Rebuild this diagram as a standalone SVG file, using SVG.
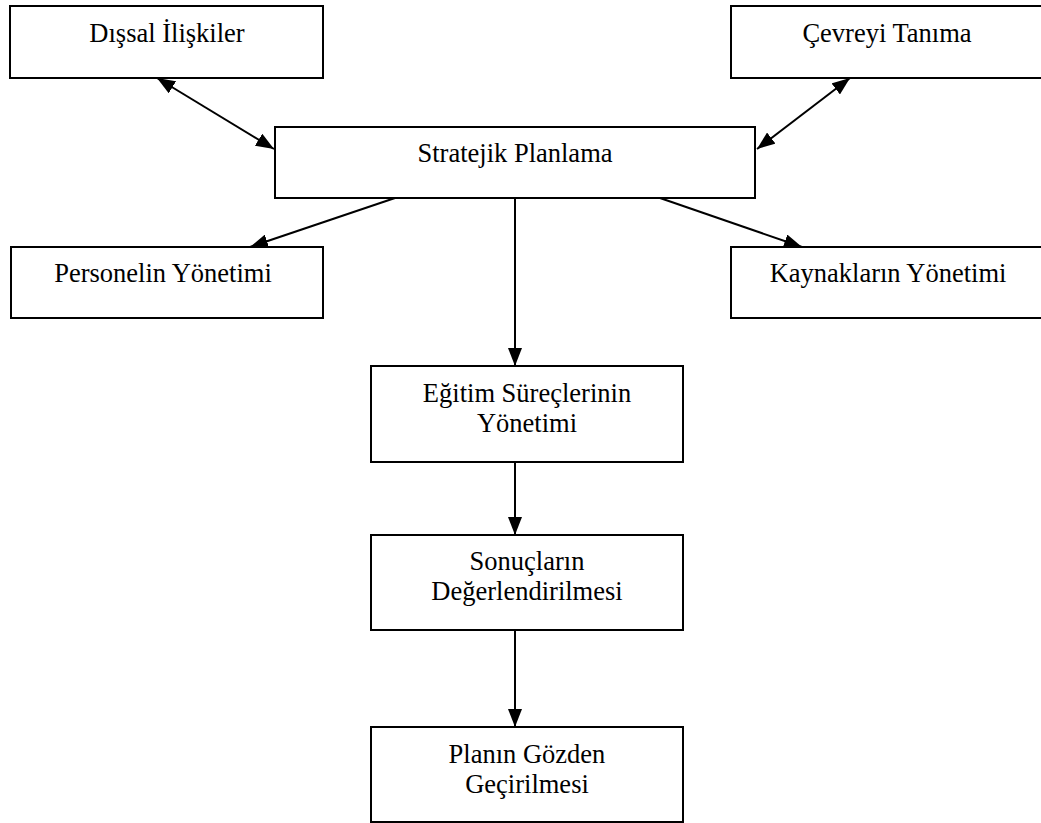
<svg xmlns="http://www.w3.org/2000/svg" width="1041" height="823" viewBox="0 0 1041 823">
  <style>
    .box { fill: #ffffff; stroke: #000000; stroke-width: 2; }
    .lbl { font-family: "Liberation Serif", "Times New Roman", serif; font-size: 26.5px; fill: #000000; text-anchor: middle; }
    .edge { stroke: #000000; stroke-width: 2; fill: none; }
  </style>
  <defs>
    <marker id="arrow" viewBox="0 0 18 14" markerWidth="18" markerHeight="14" refX="18" refY="7" orient="auto-start-reverse" markerUnits="userSpaceOnUse">
      <path d="M0,0 L18,7 L0,14 z" fill="#000000"/>
    </marker>
  </defs>
  <rect x="0" y="0" width="1041" height="823" fill="#ffffff"/>

  <g id="connectors">
    <line class="edge" x1="157" y1="78" x2="274" y2="149" marker-start="url(#arrow)" marker-end="url(#arrow)"/>
    <line class="edge" x1="850" y1="78" x2="757" y2="149" marker-start="url(#arrow)" marker-end="url(#arrow)"/>
    <line class="edge" x1="395" y1="198" x2="250" y2="247" marker-end="url(#arrow)"/>
    <line class="edge" x1="660" y1="198" x2="802" y2="247" marker-end="url(#arrow)"/>
    <line class="edge" x1="515" y1="198" x2="515" y2="366" marker-end="url(#arrow)"/>
    <line class="edge" x1="515" y1="462" x2="515" y2="535" marker-end="url(#arrow)"/>
    <line class="edge" x1="515" y1="630" x2="515" y2="727" marker-end="url(#arrow)"/>
  </g>

  <g id="dissal-iliskiler">
    <rect class="box" x="10" y="6" width="313" height="72"/>
    <text class="lbl" x="167" y="42">Dışsal İlişkiler</text>
  </g>
  <g id="cevreyi-tanima">
    <rect class="box" x="731" y="6" width="312" height="72"/>
    <text class="lbl" x="887" y="42">Çevreyi Tanıma</text>
  </g>
  <g id="stratejik-planlama">
    <rect class="box" x="275" y="127" width="480" height="71"/>
    <text class="lbl" x="515" y="162">Stratejik Planlama</text>
  </g>
  <g id="personelin-yonetimi">
    <rect class="box" x="11" y="247" width="312" height="71"/>
    <text class="lbl" x="163" y="282">Personelin Yönetimi</text>
  </g>
  <g id="kaynaklarin-yonetimi">
    <rect class="box" x="731" y="247" width="312" height="71"/>
    <text class="lbl" x="888" y="282">Kaynakların Yönetimi</text>
  </g>
  <g id="egitim-sureclerinin-yonetimi">
    <rect class="box" x="371" y="366" width="312" height="96"/>
    <text class="lbl" x="527" y="402">Eğitim Süreçlerinin</text>
    <text class="lbl" x="527" y="432">Yönetimi</text>
  </g>
  <g id="sonuclarin-degerlendirilmesi">
    <rect class="box" x="371" y="535" width="312" height="95"/>
    <text class="lbl" x="527" y="570">Sonuçların</text>
    <text class="lbl" x="527" y="600">Değerlendirilmesi</text>
  </g>
  <g id="planin-gozden-gecirilmesi">
    <rect class="box" x="371" y="727" width="312" height="95"/>
    <text class="lbl" x="527" y="763">Planın Gözden</text>
    <text class="lbl" x="527" y="793">Geçirilmesi</text>
  </g>
</svg>
